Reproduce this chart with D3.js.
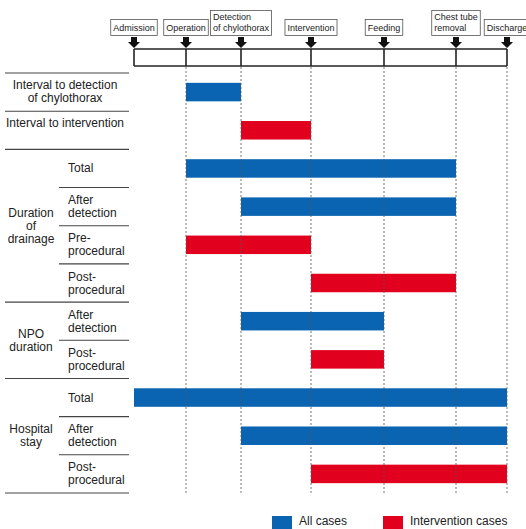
<!DOCTYPE html>
<html><head><meta charset="utf-8">
<script src="https://cdn.jsdelivr.net/npm/d3@7"></script>
<style>body{margin:0;background:#fff;overflow:hidden} text{font-family:"Liberation Sans",Arial,sans-serif;fill:#222}</style>
</head><body><svg id="c" width="526" height="529"></svg>
<script>
// ---- data ----
const events = ["Admission","Operation","Detection of chylothorax","Intervention","Feeding","Chest tube removal","Discharge"];
const eventLabelLines = [["Admission"],["Operation"],["Detection","of chylothorax"],["Intervention"],["Feeding"],["Chest tube","removal"],["Discharge"]];
const eventPositions = [0, 52, 107, 177, 250, 322, 373]; // relative timeline position
const rowLabels = [["Interval to detection","of chylothorax"],["Interval to intervention"],["Total"],["After","detection"],["Pre-","procedural"],["Post-","procedural"],["After","detection"],["Post-","procedural"],["Total"],["After","detection"],["Post-","procedural"]];
const rowGroups = [null,null,"Duration of drainage","Duration of drainage","Duration of drainage","Duration of drainage","NPO duration","NPO duration","Hospital stay","Hospital stay","Hospital stay"];
const groupLabelLines = {"Duration of drainage":["Duration","of","drainage"],"NPO duration":["NPO","duration"],"Hospital stay":["Hospital","stay"]};
const barStartEvent = [1,2,1,2,1,3,2,3,0,2,3];
const barEndEvent   = [2,3,5,5,3,5,4,4,6,6,6];
const barSeries = ["All cases","Intervention cases","All cases","All cases","Intervention cases","Intervention cases","All cases","Intervention cases","All cases","All cases","Intervention cases"];
const seriesNames = ["All cases","Intervention cases"];
const seriesColors = ["#0a64b1","#e1001e"];

// ---- layout ----
const svg = d3.select("#c");
const x = d3.scaleLinear().domain([0, 373]).range([134, 507]);
const y = d3.scaleBand().domain(d3.range(rowLabels.length)).range([73, 493]).paddingInner(0);
const color = d3.scaleOrdinal().domain(seriesNames).range(seriesColors);
const barH = 18.5;
const lineColor = "#444";

// ---- timeline header ----
const tl = svg.append("g");
tl.append("line").attr("x1", x(eventPositions[0])).attr("x2", x(eventPositions[6])).attr("y1",49).attr("y2",49).attr("stroke","#222").attr("stroke-width",1.6);
tl.append("line").attr("x1", x(eventPositions[0])).attr("x2", x(eventPositions[6])).attr("y1",66).attr("y2",66).attr("stroke","#222").attr("stroke-width",1.6);
events.forEach((e,i)=>{
  const px = x(eventPositions[i]);
  tl.append("line").attr("x1",px).attr("x2",px).attr("y1",49).attr("y2",66).attr("stroke","#222").attr("stroke-width",1.6);
  // block arrow
  tl.append("path").attr("d",`M${px-3},37 L${px+3},37 L${px+3},42 L${px+6},42 L${px},48 L${px-6},42 L${px-3},42 Z`).attr("fill","#111");
  // label box
  const lines = eventLabelLines[i];
  const g = tl.append("g");
  const fs = 9;
  const lh = 10.5;
  const bottom = 35.5;
  const top = lines.length === 1 ? 19.5 : 10.5;
  const texts = lines.map((l,j)=> g.append("text").attr("font-size",fs)
      .attr("x", 0).attr("y", bottom - 5 - (lines.length-1-j)*lh).text(l));
  const w = d3.max(texts, t=>t.node().getComputedTextLength());
  const bw = w + 5;
  const bx = px - bw/2;
  texts.forEach(t=>t.attr("x", bx+2.5));
  g.insert("rect","text").attr("x",bx).attr("y",top).attr("width",bw).attr("height",bottom-top)
    .attr("fill","#fff").attr("stroke","#555").attr("stroke-width",0.8);
});

// ---- table lines ----
const tbl = svg.append("g");
const fullLineIdx = [0,1,2,6,8,11]; // row boundaries that are full width
d3.range(rowLabels.length+1).forEach(i=>{
  const yy = i < rowLabels.length ? y(i) : y(rowLabels.length-1)+y.bandwidth();
  const full = fullLineIdx.includes(i);
  tbl.append("line").attr("x1", full?5:59).attr("x2",129).attr("y1",yy).attr("y2",yy)
    .attr("stroke",lineColor).attr("stroke-width",1.1);
});
// row labels
rowLabels.forEach((lines,i)=>{
  const top = y(i), c = top + y.bandwidth()/2;
  if (rowGroups[i] === null) {
    lines.forEach((l,j)=> tbl.append("text").attr("font-size",12).attr("text-anchor","middle")
      .attr("x",65).attr("y", top+16+j*12.5).text(l));
  } else {
    const first = c - (lines.length-1)*13/2 + 4;
    lines.forEach((l,j)=> tbl.append("text").attr("font-size",12)
      .attr("x",68).attr("y", first + j*13).text(l));
  }
});
// group labels
Object.keys(groupLabelLines).forEach(gname=>{
  const idx = rowGroups.map((g,i)=>g===gname?i:-1).filter(i=>i>=0);
  const c = (y(idx[0]) + y(idx[idx.length-1]) + y.bandwidth())/2;
  const lines = groupLabelLines[gname];
  const first = c - (lines.length-1)*13/2 + 4;
  lines.forEach((l,j)=> tbl.append("text").attr("font-size",12).attr("text-anchor","middle")
    .attr("x",31).attr("y", first + j*13).text(l));
});

// ---- bars ----
svg.append("g").selectAll("rect").data(d3.range(rowLabels.length)).join("rect")
  .attr("x", i=>x(eventPositions[barStartEvent[i]]))
  .attr("width", i=>x(eventPositions[barEndEvent[i]]) - x(eventPositions[barStartEvent[i]]))
  .attr("y", i=>y(i) + y.bandwidth()/2 - barH/2)
  .attr("height", barH)
  .attr("fill", i=>color(barSeries[i]));

// ---- dashed guide lines ----
svg.append("g").selectAll("line").data(d3.range(1, events.length)).join("line")
  .attr("x1", i=>x(eventPositions[i])).attr("x2", i=>x(eventPositions[i]))
  .attr("y1", 67).attr("y2", 493)
  .attr("stroke","#555").attr("stroke-width",0.8).attr("stroke-dasharray","2,2");

// ---- legend ----
const lg = svg.append("g");
const legX = [272, 383];
seriesNames.forEach((s,i)=>{
  lg.append("rect").attr("x",legX[i]).attr("y",516).attr("width",20).attr("height",13).attr("fill",color(s));
  lg.append("text").attr("font-size",12).attr("x",legX[i]+27).attr("y",525).text(s);
});
</script></body></html>
